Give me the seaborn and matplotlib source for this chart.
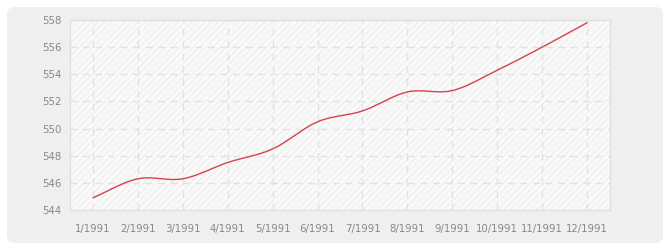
import numpy as np
import pandas as pd
import matplotlib
matplotlib.use("Agg")
import matplotlib.pyplot as plt
from matplotlib.patches import FancyBboxPatch, Rectangle
import seaborn as sns

months = ["1/1991", "2/1991", "3/1991", "4/1991", "5/1991", "6/1991",
          "7/1991", "8/1991", "9/1991", "10/1991", "11/1991", "12/1991"]
values = [544.9, 546.3, 546.3, 547.5, 548.5, 550.5, 551.3, 552.7, 552.8, 554.3, 556.0, 557.8]
y_ticks = [544, 546, 548, 550, 552, 554, 556, 558]


def smooth(x, y, n=20):
    # cubic Hermite curve through the points (for drawing only)
    x = np.asarray(x, float); y = np.asarray(y, float)
    m = np.gradient(y, x)
    xs, ys = [], []
    for i in range(len(x) - 1):
        t = np.linspace(0, 1, n, endpoint=False)
        h = x[i + 1] - x[i]
        h00 = 2 * t**3 - 3 * t**2 + 1
        h10 = t**3 - 2 * t**2 + t
        h01 = -2 * t**3 + 3 * t**2
        h11 = t**3 - t**2
        xs.append(x[i] + t * h)
        ys.append(h00 * y[i] + h10 * h * m[i] + h01 * y[i + 1] + h11 * h * m[i + 1])
    xs.append([x[-1]]); ys.append([y[-1]])
    return np.concatenate(xs), np.concatenate(ys)


pos = np.arange(1, len(months) + 1)
sx, sy = smooth(pos, values)
df = pd.DataFrame({"x": sx, "y": sy})

sns.set_style("white")
plt.rcParams["font.family"] = ["DejaVu Sans"]
plt.rcParams["hatch.color"] = "#eeeeee"
plt.rcParams["hatch.linewidth"] = 0.8

fig = plt.figure(figsize=(6.7, 2.5), dpi=100)
fig.patch.set_facecolor("white")
bg = FancyBboxPatch((7 / 670, 7 / 250), 656 / 670, 236 / 250,
                    boxstyle="round,pad=0,rounding_size=0.012",
                    transform=fig.transFigure, facecolor="#efefef",
                    edgecolor="none", zorder=-10, mutation_aspect=670 / 250)
fig.patches.append(bg)

ax = fig.add_axes([70 / 670, 40 / 250, 540 / 670, 190 / 250])
ax.set_facecolor("#fafafa")
ax.add_patch(Rectangle((0, 0), 1, 1, transform=ax.transAxes, facecolor="none",
                       edgecolor="#eeeeee", hatch="/////", linewidth=0, zorder=0))

sns.lineplot(data=df, x="x", y="y", ax=ax, color="#d9414e", linewidth=1.0,
             estimator=None, sort=False, zorder=3)

ax.set_xlim(0.49, 12.51)
ax.set_ylim(544, 558)
ax.set_xticks(pos)
ax.set_xticklabels(months)
ax.set_yticks(y_ticks)
ax.set_xlabel("")
ax.set_ylabel("")
ax.grid(True, linestyle=(0, (5, 4)), color="#e2e2e2", linewidth=1.0)
ax.set_axisbelow(True)
for s in ax.spines.values():
    s.set_color("#e0e0e0")
    s.set_linewidth(1.0)
ax.tick_params(axis="both", colors="#999999", labelcolor="#888888",
               labelsize=7.3, length=4, width=1, direction="out")
ax.tick_params(axis="x", pad=6)
ax.tick_params(axis="y", pad=2)

fig.savefig("out.png", dpi=100)
